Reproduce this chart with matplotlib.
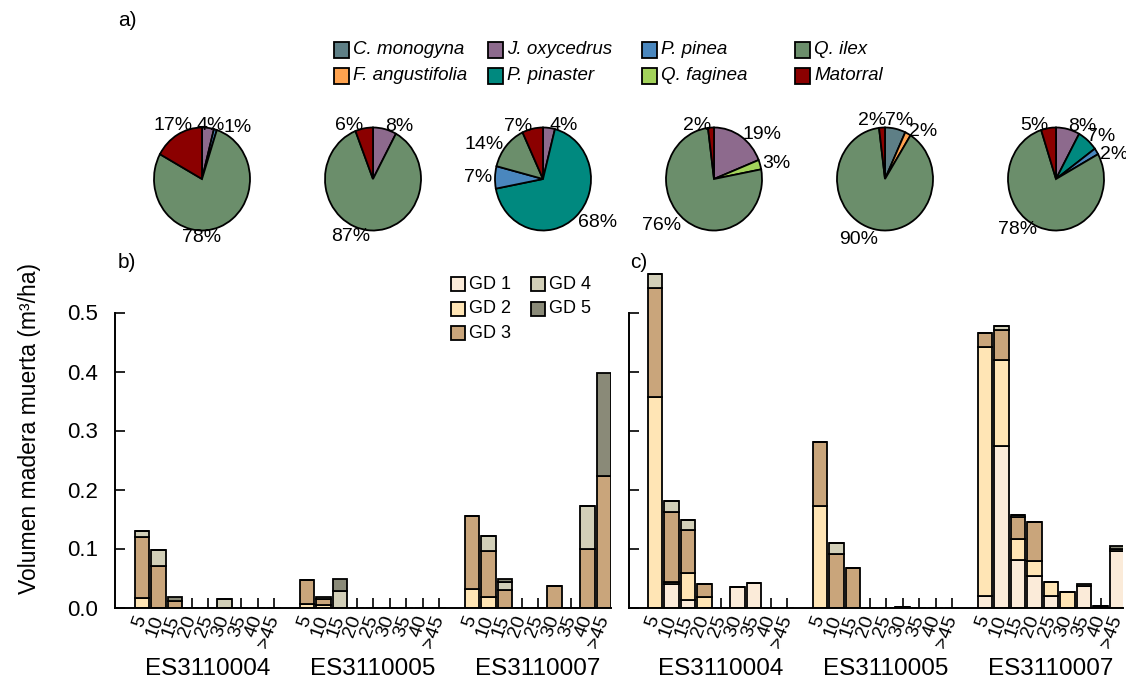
import numpy as np
import matplotlib
matplotlib.use("Agg")
import matplotlib.pyplot as plt
from matplotlib.patches import Rectangle

plt.rcParams["font.family"] = ["Liberation Sans", "DejaVu Sans"]

W, H = 1126, 679

# ---------------- data ---------------- #
species = ["C. monogyna", "F. angustifolia", "J. oxycedrus", "P. pinaster",
           "P. pinea", "Q. faginea", "Q. ilex", "Matorral"]
species_colors = ["#5E7F86", "#FFA34F", "#8D6A8D", "#00897F",
                  "#4A87BE", "#A3D35B", "#6B8E6B", "#8B0000"]

# species shares (%) per pie, same order as `species`
pie_b1 = [0, 0, 4, 0, 1, 0, 78, 17]
pie_b2 = [0, 0, 8, 0, 0, 0, 87, 6]
pie_b3 = [0, 0, 4, 68, 7, 0, 14, 7]
pie_c1 = [0, 0, 19, 0, 0, 3, 76, 2]
pie_c2 = [7, 2, 0, 0, 0, 0, 90, 2]
pie_c3 = [0, 0, 8, 7, 2, 0, 78, 5]

sites = ["ES3110004", "ES3110005", "ES3110007"]
size_classes = ["5", "10", "15", "20", "25", "30", "35", "40", ">45"]

gd_names = ["GD 1", "GD 2", "GD 3", "GD 4", "GD 5"]
gd_colors = ["#FBEBD9", "#FFE5B5", "#C9A57B", "#D2CFB8", "#8A8A78"]

# panel b: volume (m3/ha) per decay class, 3 sites x 9 size classes
b_gd1 = [0, 0, 0, 0, 0, 0, 0, 0, 0,
         0, 0, 0, 0, 0, 0, 0, 0, 0,
         0, 0, 0, 0, 0, 0, 0, 0, 0]
b_gd2 = [0.016, 0, 0, 0, 0, 0, 0, 0, 0,
         0.006, 0.005, 0, 0, 0, 0, 0, 0, 0,
         0.032, 0.017, 0, 0, 0, 0, 0, 0, 0]
b_gd3 = [0.104, 0.070, 0.011, 0, 0, 0, 0, 0, 0,
         0.040, 0.009, 0, 0, 0, 0, 0, 0, 0,
         0.123, 0.078, 0.029, 0, 0, 0.036, 0, 0.100, 0.223]
b_gd4 = [0.010, 0.028, 0, 0, 0, 0.014, 0, 0, 0,
         0, 0, 0.028, 0, 0, 0, 0, 0, 0,
         0, 0.027, 0.015, 0, 0, 0, 0, 0.072, 0]
b_gd5 = [0, 0, 0.007, 0, 0, 0, 0, 0, 0,
         0, 0.003, 0.020, 0, 0, 0, 0, 0, 0,
         0, 0, 0.004, 0, 0, 0, 0, 0, 0.175]

# panel c
c_gd1 = [0, 0.039, 0.013, 0, 0, 0.034, 0.042, 0, 0,
         0, 0, 0, 0, 0, 0.001, 0, 0, 0,
         0.020, 0.274, 0.081, 0.054, 0.0195, 0, 0.0365, 0.002, 0.096]
c_gd2 = [0.357, 0.005, 0.045, 0.017, 0, 0, 0, 0, 0,
         0.1725, 0, 0, 0, 0, 0, 0, 0, 0,
         0.422, 0.146, 0.035, 0.025, 0.0235, 0.027, 0, 0, 0]
c_gd3 = [0.185, 0.118, 0.074, 0.023, 0, 0, 0, 0, 0,
         0.1085, 0.090, 0.067, 0, 0, 0, 0, 0, 0,
         0.024, 0.050, 0.037, 0.066, 0, 0, 0, 0, 0]
c_gd4 = [0.023, 0.019, 0.016, 0, 0, 0, 0, 0, 0,
         0, 0.020, 0, 0, 0, 0, 0, 0, 0,
         0, 0.007, 0.004, 0, 0, 0, 0, 0, 0.004]
c_gd5 = [0, 0, 0, 0, 0, 0, 0, 0, 0,
         0, 0, 0, 0, 0, 0, 0, 0, 0,
         0, 0, 0, 0, 0, 0, 0.0035, 0, 0.005]

# hand nudges (px) for crowded pie labels: (pie index, species) -> (dx, dy)
label_nudge = {
    (0, "J. oxycedrus"): (-12, 0), (0, "P. pinea"): (7, 0),
    (0, "Q. ilex"): (-39, 8), (0, "Matorral"): (16, -7),
    (1, "Q. ilex"): (0, 4), (2, "P. pinaster"): (0, 4),
    (3, "Q. ilex"): (-3, 3),
    (4, "C. monogyna"): (-11, -6), (4, "Matorral"): (4, -5), (4, "Q. ilex"): (4, 8),
    (5, "P. pinaster"): (-2, -2), (5, "P. pinea"): (1, 4),
}

# ---------------- helpers ---------------- #

def px_box(x0, y0, x1, y1):
    """pixel box (top-left origin) -> figure fraction rect"""
    return [x0 / W, 1 - y1 / H, (x1 - x0) / W, (y1 - y0) / H]


def legend_item(fig, x, y, color, label, italic=False, size=13.5, s=14):
    fig.add_artist(Rectangle((x / W, 1 - (y + s / 2) / H), s / W, s / H,
                             transform=fig.transFigure, facecolor=color,
                             edgecolor="black", linewidth=1.3))
    fig.text((x + s + 4) / W, 1 - y / H, label, fontsize=size,
             style="italic" if italic else "normal", ha="left", va="center")


def draw_pie(fig, idx, cx, cy, values):
    rx, ry = 48, 51.5
    ax = fig.add_axes(px_box(cx - rx, cy - ry, cx + rx, cy + ry))
    keep = [i for i, v in enumerate(values) if v > 0]
    vals = [values[i] for i in keep]
    cols = [species_colors[i] for i in keep]
    _, texts = ax.pie(vals, colors=cols, startangle=90, counterclock=False,
                      labels=[f"{v}%" for v in vals], labeldistance=1.05,
                      wedgeprops=dict(edgecolor="black", linewidth=1.3),
                      textprops=dict(fontsize=14))
    for i, t in zip(keep, texts):
        dx, dy = label_nudge.get((idx, species[i]), (0, 0))
        x, y = t.get_position()
        t.set_position((x + dx / rx, y - dy / ry))
    ax.set_aspect("auto")
    ax.set_xlim(-1, 1)
    ax.set_ylim(-1, 1)


def draw_bars(ax, layers, xlim, show_ylabels):
    n_per = len(size_classes)
    pos = np.concatenate([np.arange(n_per) + 10 * i for i in range(len(sites))])
    bottom = np.zeros(len(pos))
    for vals, col in zip(layers, gd_colors):
        vals = np.array(vals, dtype=float)
        ax.bar(pos, vals, bottom=bottom, width=0.88, color=col,
               edgecolor="black", linewidth=1.3, zorder=2)
        bottom += vals
    ax.set_xlim(*xlim)
    ax.set_ylim(0, 0.6)
    ax.set_xticks(pos)
    ax.set_xticklabels(size_classes * len(sites), rotation=70, fontsize=14,
                       ha="right", va="center", rotation_mode="anchor")
    yt = np.arange(0, 0.51, 0.1)
    ax.set_yticks(yt)
    if show_ylabels:
        ax.set_yticklabels([f"{v:.1f}" for v in yt], fontsize=16)
    else:
        ax.set_yticklabels([])
    ax.tick_params(axis="x", direction="in", length=7, width=1.2, pad=6)
    ax.tick_params(axis="y", direction="in", length=7, width=1.2, pad=12)
    for side in ("top", "right"):
        ax.spines[side].set_visible(False)
    for side in ("left", "bottom"):
        ax.spines[side].set_linewidth(1.4)
    ax.spines["left"].set_bounds(0, 0.5)
    for i, site in enumerate(sites):
        ax.text(10 * i + 4, -0.1143, site, transform=ax.transData,
                fontsize=17.5, ha="center", va="baseline")


# ---------------- figure ---------------- #
fig = plt.figure(figsize=(W / 100, H / 100), dpi=100)

fig.text(118 / W, 1 - 20 / H, "a)", fontsize=15, ha="left", va="center")
fig.text(118 / W, 1 - 262 / H, "b)", fontsize=15, ha="left", va="center")
fig.text(630 / W, 1 - 262 / H, "c)", fontsize=15, ha="left", va="center")

# species legend (4 columns x 2 rows)
leg_x = [334, 488, 642, 795]
leg_y = [50, 76]
for k, (name, col) in enumerate(zip(species, species_colors)):
    legend_item(fig, leg_x[k // 2], leg_y[k % 2], col, name, italic=True, s=15)

# pies
pie_cx = [202, 373, 543, 714, 885, 1056]
for k, (cx, vals) in enumerate(zip(pie_cx, [pie_b1, pie_b2, pie_b3,
                                            pie_c1, pie_c2, pie_c3])):
    draw_pie(fig, k, cx, 179, vals)

# bar panels
ax_b = fig.add_axes(px_box(115, 253.5, 611, 607.5))
draw_bars(ax_b, [b_gd1, b_gd2, b_gd3, b_gd4, b_gd5], (-1.64, 28.42), True)

ax_c = fig.add_axes(px_box(629, 253.5, 1123, 607.5))
draw_bars(ax_c, [c_gd1, c_gd2, c_gd3, c_gd4, c_gd5], (-1.58, 28.36), False)

# GD legend
gd_x = [451, 451, 451, 531, 531]
gd_y = [284, 309, 333, 284, 309]
for x, y, col, name in zip(gd_x, gd_y, gd_colors, gd_names):
    legend_item(fig, x, y, col, name, size=13)

fig.text(30 / W, 1 - 428 / H, "Volumen madera muerta (m³/ha)", fontsize=16.5,
         rotation=90, ha="center", va="center")

fig.savefig("out.png", dpi=100)
